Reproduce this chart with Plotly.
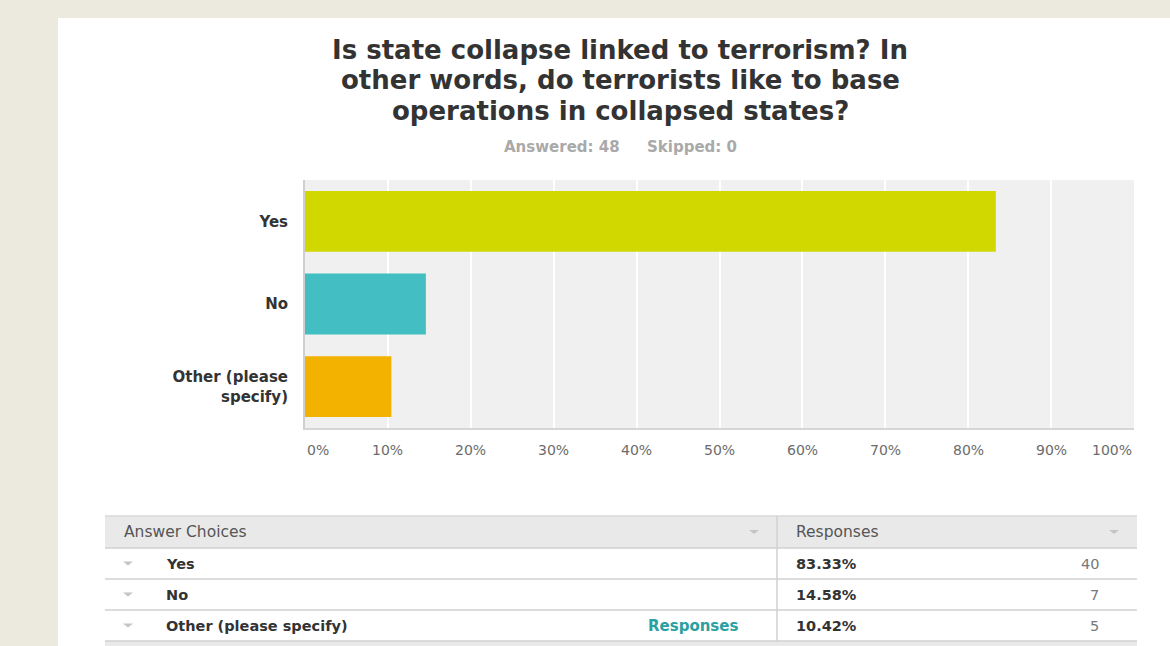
import plotly.graph_objects as go

# ---- survey data ----
TITLE_LINES = [
    "Is state collapse linked to terrorism? In",
    "other words, do terrorists like to base",
    "operations in collapsed states?",
]
ANSWERED = 48
SKIPPED = 0
CHOICES = ["Yes", "No", "Other (please specify)"]
AXIS_LABELS = ["Yes", "No", "Other (please<br>specify)"]
PERCENTS = [83.33, 14.58, 10.42]
COUNTS = [40, 7, 5]
BAR_COLORS = ["#d0d800", "#43bec2", "#f4b200"]
TICKS = [0, 10, 20, 30, 40, 50, 60, 70, 80, 90, 100]
TICK_LABELS = ["0%", "10%", "20%", "30%", "40%", "50%", "60%", "70%", "80%", "90%", "100%"]

# ---- page geometry (pixels) ----
W, H = 1170, 646
PL, PR, PT, PB = 305, 1134, 180, 428          # plot area box
FONT = "DejaVu Sans"


def px(x):
    return (x - PL) / (PR - PL)


def py(y):
    return (PB - y) / (PB - PT)


fig = go.Figure()
fig.add_trace(go.Bar(
    x=PERCENTS,
    y=AXIS_LABELS,
    orientation="h",
    marker=dict(color=BAR_COLORS, line=dict(width=0)),
    hoverinfo="skip",
))

shapes = []
annotations = []


def rect(x0, y0, x1, y1, fill, line_color=None, line_width=0):
    shapes.append(dict(
        type="rect", xref="paper", yref="paper",
        x0=px(x0), x1=px(x1), y0=py(y1), y1=py(y0),
        fillcolor=fill, layer="below",
        line=dict(width=line_width, color=line_color or fill),
    ))


def hline(x0, x1, y, color, width=1.5):
    shapes.append(dict(
        type="line", xref="paper", yref="paper",
        x0=px(x0), x1=px(x1), y0=py(y), y1=py(y),
        line=dict(color=color, width=width), layer="above",
    ))


def vline(x, y0, y1, color, width=1.5):
    shapes.append(dict(
        type="line", xref="paper", yref="paper",
        x0=px(x), x1=px(x), y0=py(y0), y1=py(y1),
        line=dict(color=color, width=width), layer="above",
    ))


def caret(x, y, color="#c4c4c4"):
    path = "M {} {} L {} {} L {} {} Z".format(
        px(x - 5), py(y - 2), px(x + 5), py(y - 2), px(x), py(y + 2))
    shapes.append(dict(type="path", xref="paper", yref="paper", path=path,
                       fillcolor=color, line=dict(width=0), layer="above"))


def text(x, y, s, size, color, anchor="left", bold=False, vanchor="middle"):
    annotations.append(dict(
        xref="paper", yref="paper", x=px(x), y=py(y), text=s,
        showarrow=False, xanchor=anchor, yanchor=vanchor,
        font=dict(family=FONT, size=size, color=color,
                  weight="bold" if bold else "normal"),
    ))


# white card and plot background
rect(58, 18, 1200, 700, "#ffffff")
rect(PL, PT, PR, PB, "#eff0ef")

# title and response summary
for i, line in enumerate(TITLE_LINES):
    text(620, 49.5 + i * 30.5, line, 26, "#333333", anchor="center", bold=True)
text(622, 147, f"Answered: {ANSWERED}", 15, "#a9a9a9", anchor="right", bold=True)
text(645, 147, f"Skipped: {SKIPPED}", 15, "#a9a9a9", anchor="left", bold=True)

# percentage tick labels below the axis
for t, lab in zip(TICKS, TICK_LABELS):
    anchor = "left" if t == TICKS[0] else ("right" if t == TICKS[-1] else "center")
    annotations.append(dict(
        xref="x", yref="paper", x=t, y=py(450), text=lab, showarrow=False,
        xanchor=anchor, yanchor="middle",
        font=dict(family=FONT, size=14, color="#6b6b6b"),
    ))

# ---- answer table ----
TL, TR, TSEP = 105, 1137, 777
HEAD_TOP, HEAD_BOT = 516, 548
ROW_H = 31
rect(TL, HEAD_TOP, TR, HEAD_BOT, "#e9e9e9")
rect(TL, HEAD_BOT + ROW_H * len(CHOICES), TR, 660, "#e9e9e9")
hline(TL, TR, HEAD_TOP, "#d8d8d8")
hline(TL, TR, HEAD_BOT, "#d0d0d0")
for i in range(len(CHOICES)):
    hline(TL, TR, HEAD_BOT + ROW_H * (i + 1), "#d0d0d0")
vline(TSEP, HEAD_TOP, HEAD_BOT + ROW_H * len(CHOICES), "#d0d0d0")

head_y = (HEAD_TOP + HEAD_BOT) / 2
text(122, head_y, "Answer Choices", 15.5, "#555555")
text(794, head_y, "Responses", 15.5, "#555555")
caret(754, head_y)
caret(1114, head_y)

for i, (choice, pct, cnt) in enumerate(zip(CHOICES, PERCENTS, COUNTS)):
    ry = HEAD_BOT + ROW_H * i + ROW_H / 2
    caret(128, ry)
    text(164, ry, choice, 14.5, "#333333", bold=True)
    text(794, ry, f"{pct:.2f}%", 14.5, "#333333", bold=True)
    text(1101, ry, str(cnt), 14.5, "#777777", anchor="right")
    if choice.startswith("Other"):
        text(740, ry, "Responses", 15, "#2aa0a0", anchor="right", bold=True)

fig.update_layout(
    width=W, height=H, autosize=False,
    margin=dict(l=PL, r=W - PR, t=PT, b=H - PB, pad=0),
    paper_bgcolor="#ece9df",
    plot_bgcolor="rgba(0,0,0,0)",
    showlegend=False,
    bargap=0.265,
    shapes=shapes,
    annotations=annotations,
    xaxis=dict(
        range=[0, 100], tickvals=TICKS, showticklabels=False,
        showgrid=True, gridcolor="#ffffff", gridwidth=1.5,
        zeroline=False, showline=True, linecolor="#d6d6d6", linewidth=2,
        ticks="", fixedrange=True,
    ),
    yaxis=dict(
        categoryorder="array", categoryarray=AXIS_LABELS, autorange="reversed",
        showgrid=False, zeroline=False, showline=True, linecolor="#cfcfcf",
        linewidth=2, ticks="", ticklabelstandoff=12,
        tickfont=dict(family=FONT, size=15, color="#333333", weight="bold"),
        fixedrange=True,
    ),
)

fig.write_html("out.html", config={"displayModeBar": False})
